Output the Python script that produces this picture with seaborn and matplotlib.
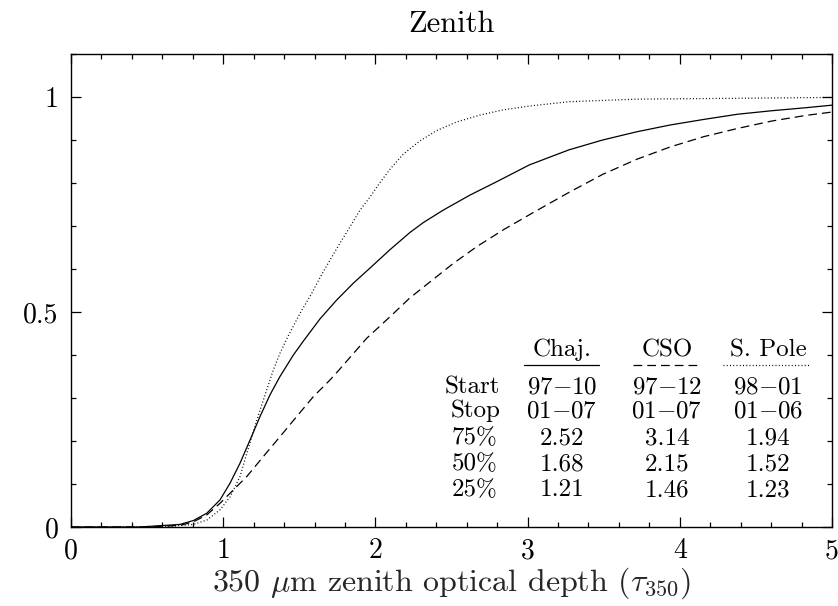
import matplotlib
matplotlib.use("Agg")
import matplotlib.pyplot as plt
import seaborn as sns
import numpy as np
import pandas as pd

# ---- data ----
chaj_x = [0, 0.45, 0.716, 0.804, 0.892, 0.979, 1.045, 1.11, 1.176, 1.242, 1.307, 1.373,
          1.461, 1.526, 1.581, 1.636, 1.746, 1.855, 1.964, 2.096, 2.227, 2.315, 2.446,
          2.622, 2.797, 3.011, 3.271, 3.493, 3.716, 3.938, 4.16, 4.381, 4.603, 4.825, 5.0]
chaj_y = [0, 0, 0.006, 0.015, 0.032, 0.063, 0.102, 0.148, 0.202, 0.257, 0.307, 0.35,
          0.40, 0.432, 0.458, 0.484, 0.528, 0.567, 0.602, 0.645, 0.685, 0.708, 0.737,
          0.772, 0.803, 0.842, 0.877, 0.90, 0.919, 0.935, 0.948, 0.96, 0.968, 0.975, 0.981]

cso_x = [0, 0.5, 0.72, 0.804, 0.892, 0.979, 1.066, 1.154, 1.264, 1.373, 1.483, 1.592,
         1.702, 1.763, 1.943, 2.096, 2.227, 2.359, 2.512, 2.666, 2.84, 3.011, 3.271,
         3.493, 3.716, 3.938, 4.16, 4.381, 4.603, 4.825, 5.0]
cso_y = [0, 0, 0.004, 0.012, 0.028, 0.055, 0.086, 0.117, 0.164, 0.21, 0.257, 0.303,
         0.342, 0.366, 0.439, 0.489, 0.533, 0.57, 0.613, 0.652, 0.691, 0.726, 0.778,
         0.82, 0.855, 0.884, 0.908, 0.927, 0.944, 0.957, 0.965]

pole_x = [0, 0.6, 0.804, 0.892, 0.979, 1.045, 1.11, 1.154, 1.198, 1.242, 1.286, 1.329,
          1.373, 1.428, 1.505, 1.581, 1.636, 1.702, 1.767, 1.833, 1.899, 1.964, 2.03,
          2.096, 2.183, 2.293, 2.403, 2.534, 2.687, 2.84, 3.011, 3.271, 3.716, 4.381, 5.0]
pole_y = [0, 0, 0.006, 0.016, 0.04, 0.07, 0.117, 0.17, 0.222, 0.272, 0.319, 0.365,
          0.404, 0.445, 0.497, 0.543, 0.58, 0.621, 0.66, 0.698, 0.737, 0.767, 0.801,
          0.832, 0.867, 0.898, 0.922, 0.942, 0.958, 0.97, 0.979, 0.989, 0.995, 0.997, 0.999]

sites = ["Chaj.", "CSO", "S. Pole"]
row_labels = ["Start", "Stop", "75%", "50%", "25%"]
start_vals = ["97$-$10", "97$-$12", "98$-$01"]
stop_vals = ["01$-$07", "01$-$07", "01$-$06"]
p75 = ["2.52", "3.14", "1.94"]
p50 = ["1.68", "2.15", "1.52"]
p25 = ["1.21", "1.46", "1.23"]

xticks = [0, 1, 2, 3, 4, 5]
yticks = [0, 0.5, 1]
ytick_labels = ["0", "0.5", "1"]

# ---- style ----
sns.set_theme(style="ticks")
plt.rcParams.update({
    "font.family": "serif",
    "font.serif": ["cmr10", "DejaVu Serif"],
    "mathtext.fontset": "cm",
    "axes.formatter.use_mathtext": True,
    "axes.unicode_minus": False,
    "axes.edgecolor": "black",
    "axes.linewidth": 1.0,
    "xtick.color": "black",
    "ytick.color": "black",
    "text.color": "black",
})

fig = plt.figure(figsize=(8.38, 6.06), dpi=100)
ax = fig.add_axes([71 / 838, 1 - 527 / 606, (832 - 71) / 838, (527 - 54) / 606])

df = pd.concat([
    pd.DataFrame({"x": chaj_x, "y": chaj_y, "site": "Chaj."}),
    pd.DataFrame({"x": cso_x, "y": cso_y, "site": "CSO"}),
    pd.DataFrame({"x": pole_x, "y": pole_y, "site": "S. Pole"}),
])
styles = {"Chaj.": "-", "CSO": (0, (7, 4)), "S. Pole": (0, (0.8, 1.8))}
for s in sites:
    d = df[df.site == s]
    sns.lineplot(data=d, x="x", y="y", ax=ax, color="black", lw=0.9,
                 linestyle=styles[s], sort=False, estimator=None, legend=False)

ax.set_xlim(0, 5)
ax.set_ylim(0, 1.1)
ax.set_xticks(xticks)
ax.set_xticklabels([str(t) for t in xticks])
ax.set_yticks(yticks)
ax.set_yticklabels(ytick_labels)
ax.set_xticks(np.arange(0, 5.01, 0.2), minor=True)
ax.set_yticks(np.arange(0, 1.101, 0.1), minor=True)
ax.tick_params(which="both", direction="in", top=True, right=True, width=0.9)
ax.tick_params(which="major", length=7.5, labelsize=20, pad=9)
ax.tick_params(which="minor", length=3.8)
ax.tick_params(axis="x", which="major", pad=8)

ax.set_xlabel(r"350 $\mu$m zenith optical depth ($\tau_{350}$)", fontsize=23, labelpad=1)
ax.set_ylabel("")
ax.set_title("Zenith", fontsize=22, pad=16)

# ---- table ----
def fx(px):
    return px / 838
def fy(py):
    return 1 - py / 606

col_x = [562, 667, 768]
hdr_y = 350
for cx, s in zip(col_x, sites):
    fig.text(fx(cx), fy(hdr_y), s, ha="center", va="center", fontsize=18)
under = [(524, 599), (633, 701), (723, 809)]
for (a, b), s in zip(under, sites):
    fig.add_artist(plt.Line2D([fx(a), fx(b)], [fy(365), fy(365)], color="black", lw=0.9,
                              linestyle=styles[s], transform=fig.transFigure))

row_y = [387, 411, 438, 464, 490]
rows = [start_vals, stop_vals, p75, p50, p25]
label_right = [500, 500, 497, 497, 497]
for ry, lab, lr, vals in zip(row_y, row_labels, label_right, rows):
    fig.text(fx(lr), fy(ry), lab, ha="right", va="center", fontsize=18)
    for cx, v in zip(col_x, vals):
        fig.text(fx(cx), fy(ry), v, ha="center", va="center", fontsize=18)

fig.savefig("out.png", dpi=100)
